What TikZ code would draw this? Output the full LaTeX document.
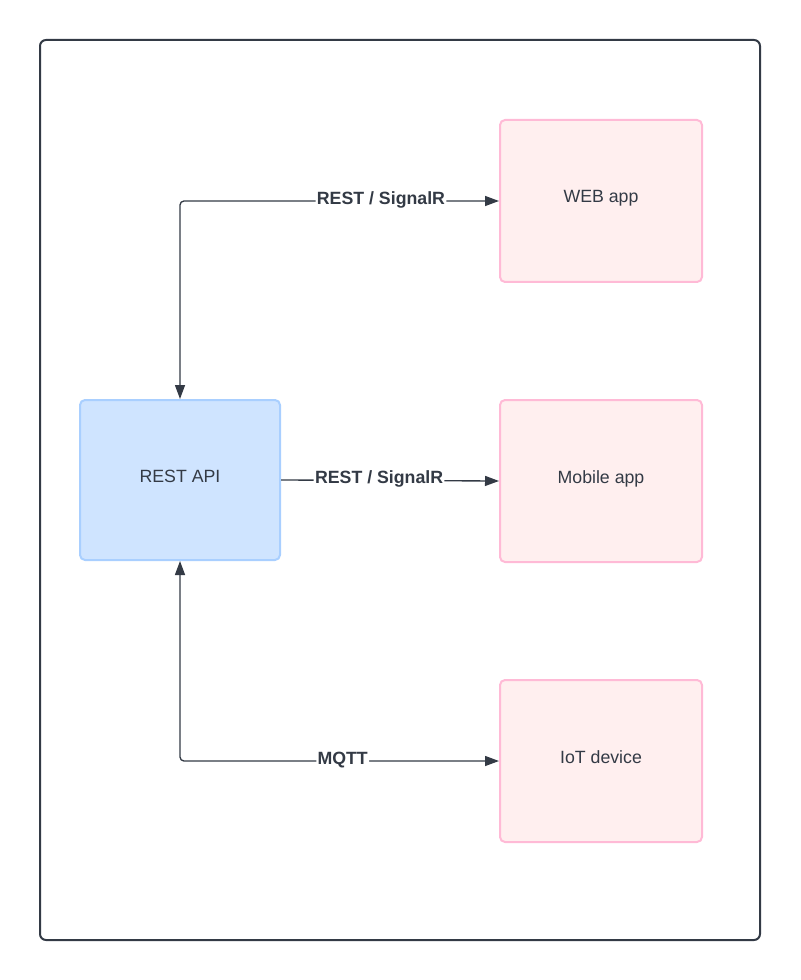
\documentclass[tikz,border=0pt]{standalone}
\usepackage{fontspec}
\setmainfont{Liberation Sans}
\usetikzlibrary{arrows.meta}

\definecolor{inkgray}{HTML}{333A45}
\definecolor{apifill}{HTML}{CFE4FF}
\definecolor{apiline}{HTML}{A9CFFF}
\definecolor{appfill}{HTML}{FFEFEF}
\definecolor{appline}{HTML}{FFBAD6}

\tikzset{
	client/.style={shape=rectangle,draw=appline,fill=appfill,line width=1.5pt,rounded corners=3.75pt,
		minimum width=151.5pt,minimum height=121.5pt,text=inkgray,text depth=6.5pt,font=\fontsize{13.3}{15}\selectfont},
	server/.style={shape=rectangle,draw=apiline,fill=apifill,line width=1.5pt,rounded corners=3.75pt,
		minimum width=150pt,minimum height=120pt,text=inkgray,text depth=5.5pt,font=\fontsize{13.3}{15}\selectfont},
	link/.style={draw=inkgray,line width=1pt,rounded corners=3pt},
	tip/.style={-{Triangle[length=10.5pt,width=7.5pt]}},
	proto/.style={fill=white,inner sep=1pt,text=inkgray,yshift=1pt,font=\bfseries\fontsize{13.3}{15}\selectfont}
}

\begin{document}
\begin{tikzpicture}[x=0.75pt,y=-0.75pt,node distance=210pt]
	\useasboundingbox (0,0) rectangle (800,980);
	\draw[inkgray,line width=1.5pt,rounded corners=4.5pt] (40,40) rectangle (760,940);

	\node[server] (api) at (180,480) {REST API};
	\node[client] (mobile) at (601,481) {Mobile app};
	\node[client] (web) [above of=mobile] {WEB app};
	\node[client] (iot) [below of=mobile] {IoT device};

	\draw[link,{Triangle[length=10.5pt,width=7.5pt]}-{Triangle[length=10.5pt,width=7.5pt]}] (api.north) |- (web.west) node[proto,pos=0.815] {REST / SignalR};
	\draw[link,tip] (api.east) -- (mobile.west) node[proto,pos=0.45] {REST / SignalR};
	\draw[link,{Triangle[length=10.5pt,width=7.5pt]}-{Triangle[length=10.5pt,width=7.5pt]}] (api.south) |- (iot.west) node[proto,pos=0.755] {MQTT};
\end{tikzpicture}
\end{document}
